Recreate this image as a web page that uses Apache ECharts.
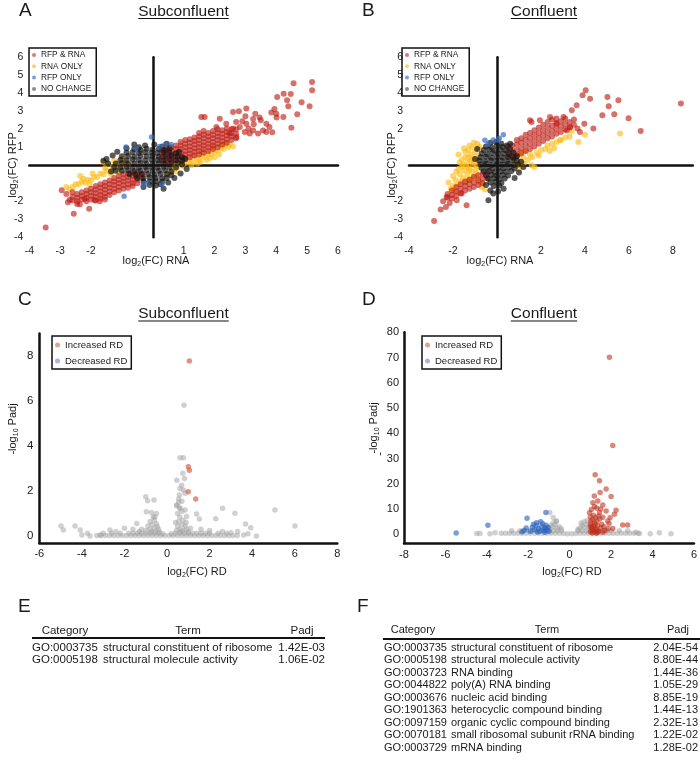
<!DOCTYPE html>
<html><head><meta charset="utf-8">
<script src="https://cdn.jsdelivr.net/npm/echarts@6/dist/echarts.min.js"></script>
<style>html,body{margin:0;padding:0;background:#fff}#c{width:700px;height:773px}</style>
</head><body><div id="c"></div>
<script>
// ---------------- DATA ----------------
const abLegendNames = ['RFP & RNA', 'RNA ONLY', 'RFP ONLY', 'NO CHANGE'];
const cdLegendNames = ['Increased RD', 'Decreased RD'];

// Panel A (Subconfluent) log2FC RNA (x) vs log2FC RFP (y)
const aRfpRna = [
[0.3,0.25],[0.3,0.45],[0.3,0.65],[0.3,0.85],
[0.45,0.2],[0.45,0.4],[0.45,0.6],[0.45,0.8],[0.45,0.95],
[0.6,0.2],[0.6,0.4],[0.6,0.6],[0.6,0.8],[0.6,1.0],
[0.75,0.3],[0.75,0.5],[0.75,0.7],[0.75,0.9],[0.75,1.1],
[0.9,0.3],[0.9,0.5],[0.9,0.7],[0.9,0.9],[0.9,1.1],[0.9,1.3],
[1.05,0.4],[1.05,0.6],[1.05,0.8],[1.05,1.0],[1.05,1.2],[1.05,1.4],
[1.2,0.45],[1.2,0.65],[1.2,0.85],[1.2,1.05],[1.2,1.25],[1.2,1.45],
[1.35,0.55],[1.35,0.75],[1.35,0.95],[1.35,1.15],[1.35,1.35],[1.35,1.55],
[1.5,0.6],[1.5,0.8],[1.5,1.0],[1.5,1.2],[1.5,1.4],[1.5,1.6],[1.5,1.8],
[1.65,0.7],[1.65,0.9],[1.65,1.1],[1.65,1.3],[1.65,1.5],[1.65,1.7],[1.65,1.9],
[1.8,0.8],[1.8,1.0],[1.8,1.2],[1.8,1.4],[1.8,1.6],[1.8,1.8],
[1.95,0.9],[1.95,1.1],[1.95,1.3],[1.95,1.5],[1.95,1.7],[1.95,1.9],
[2.1,1.0],[2.1,1.2],[2.1,1.4],[2.1,1.6],[2.1,1.8],[2.1,2.0],
[2.25,1.15],[2.25,1.35],[2.25,1.55],[2.25,1.75],[2.25,1.95],
[2.4,1.25],[2.4,1.45],[2.4,1.65],[2.4,1.85],[2.4,2.05],
[2.55,1.4],[2.55,1.6],[2.55,1.8],[2.55,2.0],
[2.7,1.5],[2.7,1.75],[2.7,2.0],
[5.16,4.63],[5.16,4.17],[5.08,3.28],[4.56,4.56],[4.47,3.96],[4.24,3.98],[4.03,3.8],[4.35,3.61],[4.39,3.28],[4.82,3.5],
[4.68,2.83],[4.49,2.09],[3.94,3.13],[3.84,2.94],[4.0,2.87],[4.01,2.65],[4.23,2.69],[3.87,1.83],[3.5,2.5],[3.32,2.87],
[3.03,3.15],[2.79,3.0],[2.6,2.96],[3.0,2.72],[3.27,2.28],[3.57,1.94],[3.14,1.76],[3.41,1.76],[2.71,1.57],[2.98,1.85],
[1.68,2.69],[1.57,2.69],[2.17,2.59],[2.38,2.31],[2.06,2.13],[2.6,2.04],[2.49,1.76],[2.82,2.13],[3.25,2.57],[3.68,2.31],
[3.78,2.13],[3.46,2.65],[3.25,1.94],[3.03,2.31],[3.68,1.85],[2.9,2.45],[3.1,2.05],[2.7,2.4],
[-0.35,-0.5],[-0.35,-0.7],
[-0.5,-0.4],[-0.5,-0.6],[-0.5,-0.8],[-0.5,-1.0],
[-0.65,-0.4],[-0.65,-0.6],[-0.65,-0.8],[-0.65,-1.0],[-0.65,-1.15],
[-0.8,-0.45],[-0.8,-0.65],[-0.8,-0.85],[-0.8,-1.05],[-0.8,-1.25],
[-0.95,-0.5],[-0.95,-0.7],[-0.95,-0.9],[-0.95,-1.1],[-0.95,-1.3],
[-1.1,-0.6],[-1.1,-0.8],[-1.1,-1.0],[-1.1,-1.2],[-1.1,-1.4],
[-1.25,-0.7],[-1.25,-0.9],[-1.25,-1.1],[-1.25,-1.3],[-1.25,-1.5],
[-1.4,-0.85],[-1.4,-1.05],[-1.4,-1.25],[-1.4,-1.45],[-1.4,-1.65],
[-1.55,-0.95],[-1.55,-1.15],[-1.55,-1.35],[-1.55,-1.55],[-1.55,-1.75],
[-1.7,-1.05],[-1.7,-1.25],[-1.7,-1.45],[-1.7,-1.65],[-1.7,-1.85],
[-1.85,-1.15],[-1.85,-1.35],[-1.85,-1.55],[-1.85,-1.75],[-1.85,-1.95],
[-2.0,-1.3],[-2.0,-1.5],[-2.0,-1.7],[-2.0,-1.9],
[-2.15,-1.4],[-2.15,-1.6],[-2.15,-1.8],[-2.15,-2.0],
[-2.3,-1.5],[-2.3,-1.7],[-2.3,-1.9],
[-2.45,-1.6],[-2.45,-1.8],[-2.45,-2.0],
[-2.6,-1.75],[-2.6,-1.95],
[-3.47,-3.46],[-2.56,-2.69],[-2.95,-1.39],[-2.69,-1.91],[-2.45,-2.15],[-2.36,-2.17],[-2.06,-2.41],[-2.2,-1.87],
[-1.88,-1.94],[-1.72,-2.0],[-2.8,-1.6],[-2.6,-1.5],[-1.55,-1.9],[-2.75,-2.05]
];
const aRnaOnly = [
[0.7,0.05],[0.8,-0.1],[0.9,0.1],[1.0,-0.05],[1.1,0.15],[1.2,0.3],[1.3,0.15],[1.4,0.4],[1.5,0.3],[1.6,0.5],
[1.7,0.45],[1.8,0.65],[1.9,0.6],[2.0,0.75],[2.1,0.8],[2.2,0.95],[2.3,0.9],[2.45,1.0],[2.5,1.15],[2.6,1.05],
[1.25,0.0],[1.55,0.2],[1.85,0.4],[2.15,0.6],[0.6,-0.3],[0.5,-0.45],[0.75,-0.35],[2.35,1.15],[1.05,0.25],[1.75,0.3],
[1.3,0.55],[1.6,0.75],[1.95,1.0],[2.25,1.1],[0.95,0.45],[1.45,0.1],[2.0,0.45],
[-0.8,0.05],[-1.0,-0.1],[-1.2,-0.2],[-1.15,0.05],[-1.4,-0.35],[-1.3,-0.1],[-1.6,-0.5],[-1.5,-0.3],[-1.8,-0.65],[-1.7,-0.45],
[-2.0,-0.85],[-1.9,-0.65],[-2.2,-0.95],[-2.1,-0.8],[-2.4,-1.05],[-2.3,-0.9],[-2.6,-1.2],[-2.5,-1.05],[-1.45,0.1],[-1.6,0.2],
[-1.25,0.25],[-2.05,-1.1],[-0.9,0.25],[-1.35,-0.5],[-2.7,-1.35],[-2.8,-1.2],[-1.0,0.35],
[-1.1,-0.4],[-1.55,-0.15],[-1.95,-0.45],[-2.25,-0.75],[-2.35,-0.6]
];
const aRfpOnly = [
[-0.04,1.57],[-0.87,1.02],[-0.93,-1.72],[-0.31,-1.11],[0.41,1.17],[-0.55,0.95],[0.22,1.05],[-0.18,-1.0],[0.3,-1.05],[0.6,1.15]
];
const aNoChange = [
[-0.25,1.1],[0.05,1.15],[0.3,1.05],[-0.45,1.0],
[-0.6,0.9],[-0.4,0.85],[-0.2,0.92],[0.0,0.88],[0.2,0.9],[0.4,0.85],[0.55,0.95],
[-0.85,0.7],[-0.65,0.72],[-0.45,0.68],[-0.25,0.72],[-0.05,0.7],[0.15,0.68],[0.35,0.72],[0.55,0.7],[0.75,0.66],
[-1.0,0.5],[-0.8,0.52],[-0.6,0.48],[-0.4,0.52],[-0.2,0.5],[0.0,0.52],[0.2,0.48],[0.4,0.5],[0.6,0.52],[0.8,0.48],[0.95,0.45],
[-1.05,0.3],[-0.85,0.28],[-0.65,0.32],[-0.45,0.3],[-0.25,0.28],[-0.05,0.32],[0.15,0.3],[0.35,0.28],[0.55,0.32],[0.75,0.3],[0.95,0.25],
[-1.2,0.1],[-1.0,0.12],[-0.8,0.08],[-0.6,0.1],[-0.4,0.12],[-0.2,0.08],[0.0,0.1],[0.2,0.12],[0.4,0.08],[0.6,0.1],[0.8,0.12],[0.95,0.05],
[-1.25,-0.1],[-1.05,-0.12],[-0.85,-0.08],[-0.65,-0.1],[-0.45,-0.12],[-0.25,-0.08],[-0.05,-0.1],[0.15,-0.12],[0.35,-0.08],[0.55,-0.1],[0.75,-0.12],
[-1.2,-0.3],[-1.0,-0.3],[-0.8,-0.28],[-0.6,-0.32],[-0.4,-0.3],[-0.2,-0.28],[0.0,-0.32],[0.2,-0.3],[0.4,-0.28],[0.6,-0.35],
[-0.75,-0.5],[-0.55,-0.52],[-0.35,-0.48],[-0.15,-0.5],[0.05,-0.52],[0.25,-0.48],[0.45,-0.5],[0.6,-0.55],
[-0.5,-0.7],[-0.3,-0.72],[-0.1,-0.68],[0.1,-0.7],[0.3,-0.72],[0.45,-0.7],
[-0.3,-0.9],[-0.1,-0.92],[0.1,-0.88],[0.3,-0.9],
[-0.1,-1.1],[0.1,-1.12],[0.25,-1.05],
[-1.3,0.55],[-1.5,0.35],[-1.35,-0.35],[-1.45,0.1],[-0.85,0.95],[-0.6,1.15],[0.45,1.2],[0.85,0.75],[1.05,0.35],
[1.1,-0.2],[0.9,-0.45],[0.7,-0.7],[0.5,-0.95],[-0.3,-1.2],[0.35,-1.3],[-1.6,0.25],[-1.15,0.75]
];

// Panel B (Confluent)
const bRfpRna = [
[0.5,0.45],[0.5,0.75],[0.5,1.05],
[0.7,0.5],[0.7,0.8],[0.7,1.1],
[0.9,0.55],[0.9,0.85],[0.9,1.15],[0.9,1.4],
[1.1,0.65],[1.1,0.95],[1.1,1.25],[1.1,1.5],
[1.3,0.8],[1.3,1.1],[1.3,1.4],[1.3,1.7],
[1.5,0.9],[1.5,1.2],[1.5,1.5],[1.5,1.8],
[1.7,1.05],[1.7,1.35],[1.7,1.65],[1.7,1.95],
[1.9,1.2],[1.9,1.5],[1.9,1.8],[1.9,2.1],
[2.1,1.35],[2.1,1.65],[2.1,1.95],[2.1,2.25],
[2.3,1.5],[2.3,1.8],[2.3,2.1],[2.3,2.4],
[2.5,1.6],[2.5,1.9],[2.5,2.2],[2.5,2.55],
[2.7,1.75],[2.7,2.05],[2.7,2.35],[2.7,2.6],
[2.9,1.85],[2.9,2.15],[2.9,2.45],
[3.1,2.0],[3.1,2.3],[3.1,2.6],
[3.3,2.1],[3.3,2.4],
[3.5,2.25],[3.5,2.55],
[8.36,3.43],[4.03,4.17],[3.89,3.89],[4.23,3.7],[5.02,3.8],[5.08,3.28],[5.52,3.61],[5.33,2.83],[5.98,2.61],[6.53,1.91],
[4.79,2.78],[4.38,2.04],[3.97,2.31],[3.66,2.04],[3.77,1.85],[3.62,3.33],[3.4,3.06],[3.02,2.69],[2.41,2.69],[1.95,2.5],
[1.5,2.5],[1.57,2.41],[2.71,2.31],[3.32,2.13],[3.17,1.94],
[-0.45,-0.4],[-0.45,-0.7],
[-0.65,-0.45],[-0.65,-0.75],[-0.65,-1.0],
[-0.85,-0.55],[-0.85,-0.85],[-0.85,-1.1],
[-1.05,-0.65],[-1.05,-0.95],[-1.05,-1.2],
[-1.25,-0.8],[-1.25,-1.05],[-1.25,-1.3],
[-1.45,-0.9],[-1.45,-1.15],[-1.45,-1.4],
[-1.65,-1.05],[-1.65,-1.3],[-1.65,-1.55],
[-1.85,-1.2],[-1.85,-1.45],[-1.85,-1.7],
[-2.05,-1.4],[-2.05,-1.65],[-2.05,-1.85],
[-2.25,-1.6],[-2.25,-1.8],
[-2.86,-3.09],[-2.56,-2.46],[-2.32,-2.31],[-1.38,-2.22],[-1.83,-1.94],[-2.29,-1.76],[-1.61,-1.57],[-2.45,-2.0],[-2.15,-2.1]
];
const bRnaOnly = [
[-0.9,1.2],[-1.1,1.0],[-0.85,0.95],[-1.3,0.85],[-1.0,0.75],[-1.2,0.6],[-0.95,0.5],[-1.45,0.45],[-1.15,0.35],[-0.95,0.2],
[-1.35,0.15],[-1.55,0.05],[-1.1,0.0],[-1.3,-0.15],[-0.95,-0.2],[-1.5,-0.3],[-1.15,-0.35],[-1.7,-0.5],[-1.35,-0.5],[-0.95,-0.45],
[-1.9,-0.8],[-1.55,-0.7],[-1.8,-1.05],[-2.0,-1.15],[-1.65,-0.9],[-2.1,-1.3],[-1.9,-1.4],[-1.6,0.3],[-1.75,-0.2],[-1.25,1.1],
[-0.75,-0.95],[-0.7,-1.2],[-0.55,-1.35],[-1.2,-0.75],[-1.05,0.15],[-1.4,-0.05],[-1.2,0.25],
[-1.75,0.6],[-1.45,0.75],[-1.6,-0.1],[-1.85,-0.35],[-2.0,-0.6],[-1.25,-0.25],[-1.05,-0.6],[-0.85,-0.75],[-1.45,-0.95],
[-1.3,0.45],[-0.8,1.05],[-1.05,1.25],[-2.2,-0.95],[-1.5,0.95],[-0.9,-0.05],[-1.7,0.15],[-1.3,-0.8],
[0.9,0.0],[1.0,0.25],[1.2,0.1],[1.2,0.45],[1.4,0.3],[1.5,0.6],[1.6,0.45],[1.8,0.7],[1.9,0.55],[2.0,0.85],
[2.2,0.9],[2.3,1.1],[2.5,1.2],[2.7,1.3],[2.9,1.4],[3.1,1.55],[3.3,1.6],[2.86,1.39],[3.7,1.3],[4.0,1.7],
[5.59,1.76],[1.58,0.0],[1.2,0.09],[1.1,0.7],[1.3,0.8],[0.8,0.3],[1.7,-0.1],[2.4,0.8],[2.6,0.95],[3.4,1.9],
[1.0,-0.2],[0.95,0.6]
];
const bRfpOnly = [
[0.29,1.7],[0.06,1.39],[-0.17,1.4],[-0.55,1.39],[-0.4,1.2],[0.1,1.5]
];
const bNoChange = [
[-0.3,1.25],[-0.05,1.3],[0.2,1.2],
[-0.5,1.05],[-0.25,1.0],[0.0,1.08],[0.25,1.02],[0.45,1.1],
[-0.6,0.85],[-0.35,0.88],[-0.1,0.82],[0.15,0.86],[0.4,0.84],[0.6,0.9],
[-0.7,0.65],[-0.45,0.62],[-0.2,0.68],[0.05,0.64],[0.3,0.66],[0.55,0.62],[0.75,0.68],
[-0.75,0.45],[-0.5,0.48],[-0.25,0.42],[0.0,0.46],[0.25,0.44],[0.5,0.48],[0.75,0.42],[0.9,0.5],
[-0.8,0.25],[-0.55,0.22],[-0.3,0.28],[-0.05,0.24],[0.2,0.26],[0.45,0.22],[0.7,0.28],[0.9,0.25],
[-0.75,0.05],[-0.5,0.08],[-0.25,0.02],[0.0,0.06],[0.25,0.04],[0.5,0.08],[0.75,0.02],[0.95,0.05],
[-0.7,-0.15],[-0.45,-0.12],[-0.2,-0.18],[0.05,-0.14],[0.3,-0.16],[0.55,-0.12],[0.8,-0.18],
[-0.6,-0.35],[-0.35,-0.32],[-0.1,-0.38],[0.15,-0.34],[0.4,-0.36],[0.65,-0.32],
[-0.5,-0.55],[-0.25,-0.52],[0.0,-0.58],[0.25,-0.54],[0.5,-0.56],
[-0.4,-0.75],[-0.15,-0.72],[0.1,-0.78],[0.35,-0.74],
[-0.3,-0.95],[-0.05,-0.92],[0.2,-0.98],
[-0.15,-1.15],[0.1,-1.12],
[-0.39,-1.94],[-0.17,-1.57],[-0.3,-1.4],[0.05,-1.45],[1.1,0.2],[1.2,-0.1],[1.0,-0.4],[0.8,-0.7],[-0.9,0.9],[0.6,1.2],
[-1.0,0.35],[0.3,-1.3],[-0.5,-1.1]
];

// Panel C (Subconfluent) log2FC RD (x) vs -log10 Padj (y)
const cNotSig = [
[-3.3,0.02],[-3.1,0.02],[-2.9,0.02],[-2.7,0.02],[-2.5,0.02],[-2.3,0.02],[-2.1,0.02],[-1.9,0.02],[-1.7,0.02],[-1.5,0.02],
[-1.3,0.02],[-1.1,0.02],[-0.9,0.02],[-0.7,0.02],[-0.5,0.02],[-0.3,0.02],[-0.1,0.02],[0.1,0.02],[0.3,0.02],[0.5,0.02],
[0.7,0.02],[0.9,0.02],[1.1,0.02],[1.3,0.02],[1.5,0.02],[1.7,0.02],[1.9,0.02],[2.1,0.02],[2.3,0.02],[2.5,0.02],
[2.7,0.02],[2.9,0.02],[3.1,0.02],[3.3,0.02],
[-3.0,0.12],[-2.6,0.12],[-2.2,0.12],[-1.8,0.12],[-1.6,0.12],[-1.4,0.12],[-1.2,0.12],[-1.0,0.12],[-0.8,0.12],[-0.6,0.12],
[-0.4,0.12],[-0.2,0.1],[0.2,0.1],[0.4,0.12],[0.6,0.12],[0.8,0.12],[1.0,0.12],[1.2,0.12],[1.4,0.12],[1.6,0.12],
[1.8,0.12],[2.0,0.12],[2.4,0.12],[2.8,0.12],
[-1.0,0.25],[-0.8,0.3],[-0.6,0.35],[-0.4,0.3],[-0.9,0.45],[-0.7,0.5],[-0.5,0.55],[-0.6,0.7],[-0.75,0.2],[-0.55,0.2],
[-0.35,0.18],[-1.2,0.3],[-0.45,0.42],[-0.65,0.85],[-0.5,1.0],[-0.8,0.65],
[0.45,0.25],[0.6,0.3],[0.75,0.25],[0.9,0.3],[0.5,0.45],[0.7,0.5],[0.85,0.45],[0.55,0.65],[0.75,0.7],[0.6,0.85],
[0.5,1.0],[0.7,1.1],[0.45,1.35],[0.6,1.25],[1.0,0.2],[1.1,0.35],[0.65,0.2],[0.4,0.6],[0.9,0.6],[0.55,1.5],
[0.61,3.48],[0.77,3.48],[0.74,2.79],[0.82,2.56],[0.46,2.48],[0.69,2.26],[0.61,2.11],[0.77,2.04],[0.58,1.82],[0.85,1.9],
[0.46,1.38],[0.61,1.23],[0.85,1.16],[1.39,0.98],[0.8,5.81],[0.55,1.65],[0.7,1.55],
[-1.0,1.75],[-0.91,1.57],[-0.61,1.6],[-0.97,1.08],[-0.73,1.04],[-0.57,0.84],[-1.42,0.56],[-2.0,0.34],[-2.68,0.27],[-1.6,0.3],
[-1.3,0.2],[-3.62,0.0],[-3.74,0.12],[-4.0,0.04],[-4.08,0.27],[-4.32,0.44],[-4.87,0.27],[-4.98,0.44],[-3.14,0.04],[-2.4,0.2],
[2.61,1.23],[3.19,1.01],[2.29,0.77],[5.07,1.16],[6.01,0.44],[3.69,0.53],[3.93,0.37],[4.2,0.0],[3.32,0.2],[3.6,0.04],
[1.52,0.76],[0.92,0.87],[1.6,0.3],[2.0,0.25],[2.6,0.2],[3.0,0.15],[3.8,0.1]
];
const cIncreased = [[1.05,7.78],[1.0,3.08],[1.05,2.92],[1.0,1.97],[1.35,1.64]];
const cDecreased = [];

// Panel D (Confluent)
const dNotSig = [
[-3.3,0.4],[-3.1,0.4],[-2.9,0.4],[-2.7,0.4],[-2.5,0.4],[-2.3,0.4],[-2.1,0.4],[-1.9,0.4],[-1.7,0.4],[-1.5,0.4],
[-1.3,0.4],[-1.1,0.4],[-0.9,0.4],[-0.7,0.4],[-0.5,0.4],[-0.3,0.3],[-0.1,0.2],[0.1,0.2],[0.3,0.3],[0.5,0.4],
[0.7,0.4],[0.9,0.4],[1.1,0.4],[1.3,0.4],[1.5,0.4],[1.7,0.4],[1.9,0.4],[2.1,0.4],[2.3,0.4],[2.5,0.4],
[2.7,0.4],[2.9,0.4],[3.1,0.4],[3.3,0.4],
[-2.8,1.4],[-2.4,1.4],[-2.0,1.4],[-1.8,1.4],[-1.6,1.4],[-1.4,1.4],[-1.2,1.4],[-1.0,1.4],[-0.8,1.4],[-0.6,1.4],
[-0.4,1.4],[0.4,1.4],[0.6,1.4],[0.8,1.4],[1.0,1.4],[1.2,1.4],[1.4,1.4],[1.6,1.4],[1.8,1.4],[2.0,1.4],
[2.4,1.4],[2.8,1.4],
[-1.0,2.5],[-0.8,2.8],[-0.6,2.4],[-0.9,3.5],[-0.7,3.8],[-0.5,3.0],[-0.8,4.5],[-0.65,5.1],[-0.96,8.6],[-0.8,6.6],
[-0.64,5.3],[-0.4,2.2],[-1.2,2.3],
[0.5,2.5],[0.7,2.8],[0.9,2.5],[0.6,3.6],[0.8,4.0],[0.7,5.0],[0.85,5.5],[0.55,4.5],[0.95,3.2],[0.4,2.0],
[-4.49,0.3],[-4.33,0.3],[-3.85,0.2],[-3.6,0.6],[3.37,0.3],[3.89,0.2],[4.33,0.6],[4.89,0.2],[3.2,0.8]
];
const dIncreased = [
[1.92,70.1],[2.08,35.2],[1.23,23.6],[1.44,21.2],[1.76,17.9],[1.47,16.5],[2.0,15.0],[1.19,15.2],[1.12,12.5],[1.36,13.2],
[1.6,11.6],[1.31,10.3],[0.96,8.5],[1.44,8.5],[1.76,9.2],[2.16,7.9],[2.24,9.5],[1.6,6.7],[1.31,5.3],[1.84,5.3],
[2.08,2.3],[2.56,3.7],[2.8,3.7],
[1.0,1.0],[1.1,1.5],[1.2,0.8],[1.3,1.8],[1.05,2.5],[1.15,3.2],[1.25,2.2],[1.4,1.2],[1.5,2.5],[1.0,4.0],
[1.2,4.5],[1.35,3.5],[1.55,4.0],[1.1,5.8],[1.25,6.5],[1.45,6.0],[1.65,3.0],[1.7,1.5],[1.0,6.8],[1.15,7.5],
[1.4,7.2],[1.05,9.8],[1.2,11.0],[1.5,10.0],[1.85,2.2],[1.9,4.2],[1.6,0.8],[1.08,0.5],[1.3,0.4],[1.95,6.5],
[1.02,3.0],[1.12,2.0],[1.22,3.8],[1.02,5.2],[1.35,0.9]
];
const dDecreased = [
[-5.48,0.5],[-3.95,3.6],[-2.06,6.3],[-1.15,8.6],[-2.2,1.5],[-2.1,2.5],[-1.9,1.2],[-1.8,2.8],[-1.7,1.8],[-1.6,3.5],
[-1.5,2.2],[-1.45,1.2],[-1.35,3.0],[-1.3,4.2],[-1.25,1.5],[-1.2,2.5],[-1.15,3.6],[-1.1,1.8],[-1.05,2.8],[-1.4,5.0],
[-1.6,4.6],[-2.3,1.0],[-1.0,1.2],[-1.75,4.0],[-1.2,0.8],[-1.55,0.9]
];

// Axis tick labels
const aXTicks = [-4, -3, -2, 1, 2, 3, 4, 5, 6];
const aYTicks = [-4, -3, -2, 1, 2, 3, 4, 5, 6];
const bXTicks = [-4, -2, 2, 4, 6, 8];
const bYTicks = [-4, -3, -2, 2, 3, 4, 5, 6];
const cXTicks = [-6, -4, -2, 0, 2, 4, 6, 8];
const cYTicks = [0, 2, 4, 6, 8];
const dXTicks = [-8, -6, -4, -2, 0, 2, 4, 6];
const dYTicks = [0, 10, 20, 30, 40, 50, 60, 70, 80];

// Tables E and F
const tableHeaders = ['Category', 'Term', 'Padj'];
const eCategory = ['GO:0003735', 'GO:0005198'];
const eTerm = ['structural constituent of ribosome', 'structural molecule activity'];
const ePadj = ['1.42E-03', '1.06E-02'];
const fCategory = ['GO:0003735','GO:0005198','GO:0003723','GO:0044822','GO:0003676','GO:1901363','GO:0097159','GO:0070181','GO:0003729'];
const fTerm = ['structural constituent of ribosome','structural molecule activity','RNA binding','poly(A) RNA binding','nucleic acid binding','heterocyclic compound binding','organic cyclic compound binding','small ribosomal subunit rRNA binding','mRNA binding'];
const fPadj = ['2.04E-54','8.80E-44','1.44E-36','1.05E-29','8.85E-19','1.44E-13','2.32E-13','1.22E-02','1.28E-02'];

// ---------------- CHART ----------------
const FONT = "'Liberation Sans', Arial, Helvetica, sans-serif";
const INK = '#1a1a1a';
const chart = echarts.init(document.getElementById('c'), null, {renderer: 'canvas'});

const measureCtx = document.createElement('canvas').getContext('2d');
function textWidth(t, size) { measureCtx.font = size + 'px ' + FONT; return measureCtx.measureText(t).width; }

function txt(x, y, text, size, align, extra) {
  return Object.assign({type: 'text', x: x, y: y, silent: true, z: 100,
    style: {text: text, fontSize: size, fontFamily: FONT, fill: INK,
      textAlign: align || 'left', align: align || 'left', textVerticalAlign: 'middle', verticalAlign: 'middle'}}, extra || {});
}
function richTxt(x, y, text, size, rotation) {
  return {type: 'text', x: x, y: y, rotation: rotation || 0, silent: true, z: 100,
    style: {text: text, fontSize: size, fontFamily: FONT, fill: INK,
      textAlign: 'center', align: 'center', textVerticalAlign: 'middle', verticalAlign: 'middle',
      rich: {s: {fontSize: 7, fontFamily: FONT, fill: INK, verticalAlign: 'bottom', lineHeight: 14},
             n: {fontSize: size, fontFamily: FONT, fill: INK, lineHeight: 14}}}};
}
function line(x1, y1, x2, y2, w) {
  return {type: 'line', silent: true, z: 100, shape: {x1: x1, y1: y1, x2: x2, y2: y2}, style: {stroke: '#111', lineWidth: w}};
}
function title(cx, cy, text, uy) {
  const w = textWidth(text, 15.5);
  return [txt(cx, cy, text, 15.5, 'center'), line(cx - w / 2, uy, cx + w / 2, uy, 1.2)];
}

const graphics = [];
[['A', 19, 11], ['B', 362, 11], ['C', 18, 300], ['D', 362, 300], ['E', 18, 607], ['F', 357, 607]].forEach(function (p) {
  graphics.push(txt(p[1], p[2], p[0], 19, 'left'));
});
graphics.push.apply(graphics, title(183.5, 11.5, 'Subconfluent', 18.5));
graphics.push.apply(graphics, title(544, 11.5, 'Confluent', 18.5));
graphics.push.apply(graphics, title(183.5, 314, 'Subconfluent', 321));
graphics.push.apply(graphics, title(544, 314, 'Confluent', 321));
graphics.push(richTxt(156, 261, '{n|log}{s|2}{n|(FC) RNA}', 11));
graphics.push(richTxt(500, 261, '{n|log}{s|2}{n|(FC) RNA}', 11));
graphics.push(richTxt(197, 572, '{n|log}{s|2}{n|(FC) RD}', 11));
graphics.push(richTxt(572, 572, '{n|log}{s|2}{n|(FC) RD}', 11));
graphics.push(richTxt(13, 165, '{n|log}{s|2}{n|(FC) RFP}', 11, Math.PI / 2));
graphics.push(richTxt(392, 165, '{n|log}{s|2}{n|(FC) RFP}', 11, Math.PI / 2));
graphics.push(richTxt(12.5, 429, '{n|-log}{s|10}{n| Padj}', 11, Math.PI / 2));
graphics.push(richTxt(374, 428, '{n|-log}{s|10}{n| Padj}', 11, Math.PI / 2));
graphics.push(Object.assign(txt(379.5, 454, '-', 11, 'center'), {rotation: Math.PI / 2}));

function table(fs, hdrCenters, hdrY, lineY, lineX1, lineX2, rowY0, rowStep, colX, cats, terms, padjs) {
  tableHeaders.forEach(function (h, i) { graphics.push(txt(hdrCenters[i], hdrY, h, fs, 'center')); });
  graphics.push(line(lineX1, lineY, lineX2, lineY, 2));
  cats.forEach(function (c, i) {
    const y = rowY0 + i * rowStep;
    graphics.push(txt(colX[0], y, c, fs, 'left'));
    graphics.push(txt(colX[1], y, terms[i], fs, 'left'));
    graphics.push(txt(colX[2], y, padjs[i], fs, 'right'));
  });
}
table(11.5, [65, 188, 302], 631, 638, 32, 325, 647.5, 12.8, [32, 103, 325], eCategory, eTerm, ePadj);
table(11, [413, 547, 678], 630, 639, 383, 700, 647.5, 12.5, [384, 451, 698], fCategory, fTerm, fPadj);

function ax(g, min, max, ticks, onZero, fs, margin) {
  return {gridIndex: g, type: 'value', min: min, max: max,
    axisLine: {onZero: onZero, lineStyle: {color: '#111', width: 2.5}},
    axisTick: {show: false}, splitLine: {show: false},
    axisLabel: {customValues: ticks, fontSize: fs, color: '#222', fontFamily: FONT, margin: margin}};
}
function sc(name, data, g, color, size) {
  return {type: 'scatter', name: name, data: data, xAxisIndex: g, yAxisIndex: g, symbolSize: size,
    itemStyle: {color: color}, silent: true, clip: false, emphasis: {disabled: true}};
}

const RED = 'rgba(190,25,18,0.78)', YEL = 'rgba(253,188,25,0.8)', BLU = 'rgba(55,105,190,0.85)', BLK = 'rgba(20,20,20,0.88)';
const GRY = 'rgba(160,160,160,0.62)';

function abLegend(left) {
  return {orient: 'vertical', left: left, top: 48, selectedMode: false, icon: 'circle',
    itemWidth: 4, itemHeight: 4, itemGap: 1.3, padding: [2, 5, 2, 3], itemTextGap: 3,
    borderColor: '#111', borderWidth: 1.5, borderRadius: 0,
    textStyle: {fontSize: 8.3, color: INK, fontFamily: FONT, lineHeight: 10},
    data: [{name: abLegendNames[0], itemStyle: {color: '#cf5a48'}}, {name: abLegendNames[1], itemStyle: {color: '#f7c64a'}},
           {name: abLegendNames[2], itemStyle: {color: '#5b86c5'}}, {name: abLegendNames[3], itemStyle: {color: '#707070'}}]};
}
function cdLegend(left) {
  return {orient: 'vertical', left: left, top: 336, selectedMode: false, icon: 'circle',
    itemWidth: 5, itemHeight: 5, itemGap: 4, padding: [3, 4, 2, 3], itemTextGap: 3,
    borderColor: '#111', borderWidth: 1.5, borderRadius: 0,
    textStyle: {fontSize: 9.5, color: INK, fontFamily: FONT, lineHeight: 12},
    data: [{name: cdLegendNames[0], itemStyle: {color: '#de8a6f'}}, {name: cdLegendNames[1], itemStyle: {color: '#8ca6d8'}}]};
}

const option = {
  animation: false,
  textStyle: {fontFamily: FONT},
  grid: [
    {left: 29.3, top: 57.3, width: 308.7, height: 180},
    {left: 409, top: 57.3, width: 283.8, height: 180},
    {left: 39.3, top: 333.5, width: 298, height: 209.25},
    {left: 404, top: 332.3, width: 291.2, height: 210.8}
  ],
  xAxis: [
    ax(0, -4, 6, aXTicks, true, 10.5, 8),
    ax(1, -4, 8.9, bXTicks, true, 10.5, 8),
    ax(2, -6, 8, cXTicks, false, 11, 6),
    ax(3, -8, 6, dXTicks, false, 11, 6)
  ],
  yAxis: [
    ax(0, -4, 6, aYTicks, true, 10.5, 6),
    ax(1, -4, 6, bYTicks, true, 10.5, 6),
    ax(2, -0.3, 9, cYTicks, false, 11.5, 6),
    ax(3, -3.5, 80, dYTicks, false, 11, 5)
  ],
  legend: [abLegend(29), abLegend(402), cdLegend(52), cdLegend(422)],
  series: [
    sc(abLegendNames[1], aRnaOnly, 0, YEL, 6),
    sc(abLegendNames[0], aRfpRna, 0, RED, 6),
    sc(abLegendNames[3], aNoChange, 0, BLK, 6),
    sc(abLegendNames[2], aRfpOnly, 0, BLU, 5.5),
    sc(abLegendNames[1], bRnaOnly, 1, YEL, 6),
    sc(abLegendNames[0], bRfpRna, 1, RED, 6),
    sc(abLegendNames[3], bNoChange, 1, BLK, 6),
    sc(abLegendNames[2], bRfpOnly, 1, BLU, 5.5),
    sc('not significant C', cNotSig, 2, GRY, 5.5),
    sc(cdLegendNames[0], cIncreased, 2, 'rgba(205,100,70,0.85)', 5.5),
    sc(cdLegendNames[1], cDecreased, 2, 'rgba(40,100,190,0.75)', 5.5),
    sc('not significant D', dNotSig, 3, GRY, 5.5),
    sc(cdLegendNames[0], dIncreased, 3, 'rgba(190,45,25,0.72)', 5.5),
    sc(cdLegendNames[1], dDecreased, 3, 'rgba(40,100,190,0.78)', 5.5)
  ],
  graphic: {elements: graphics}
};
chart.setOption(option);
</script>
</body></html>
